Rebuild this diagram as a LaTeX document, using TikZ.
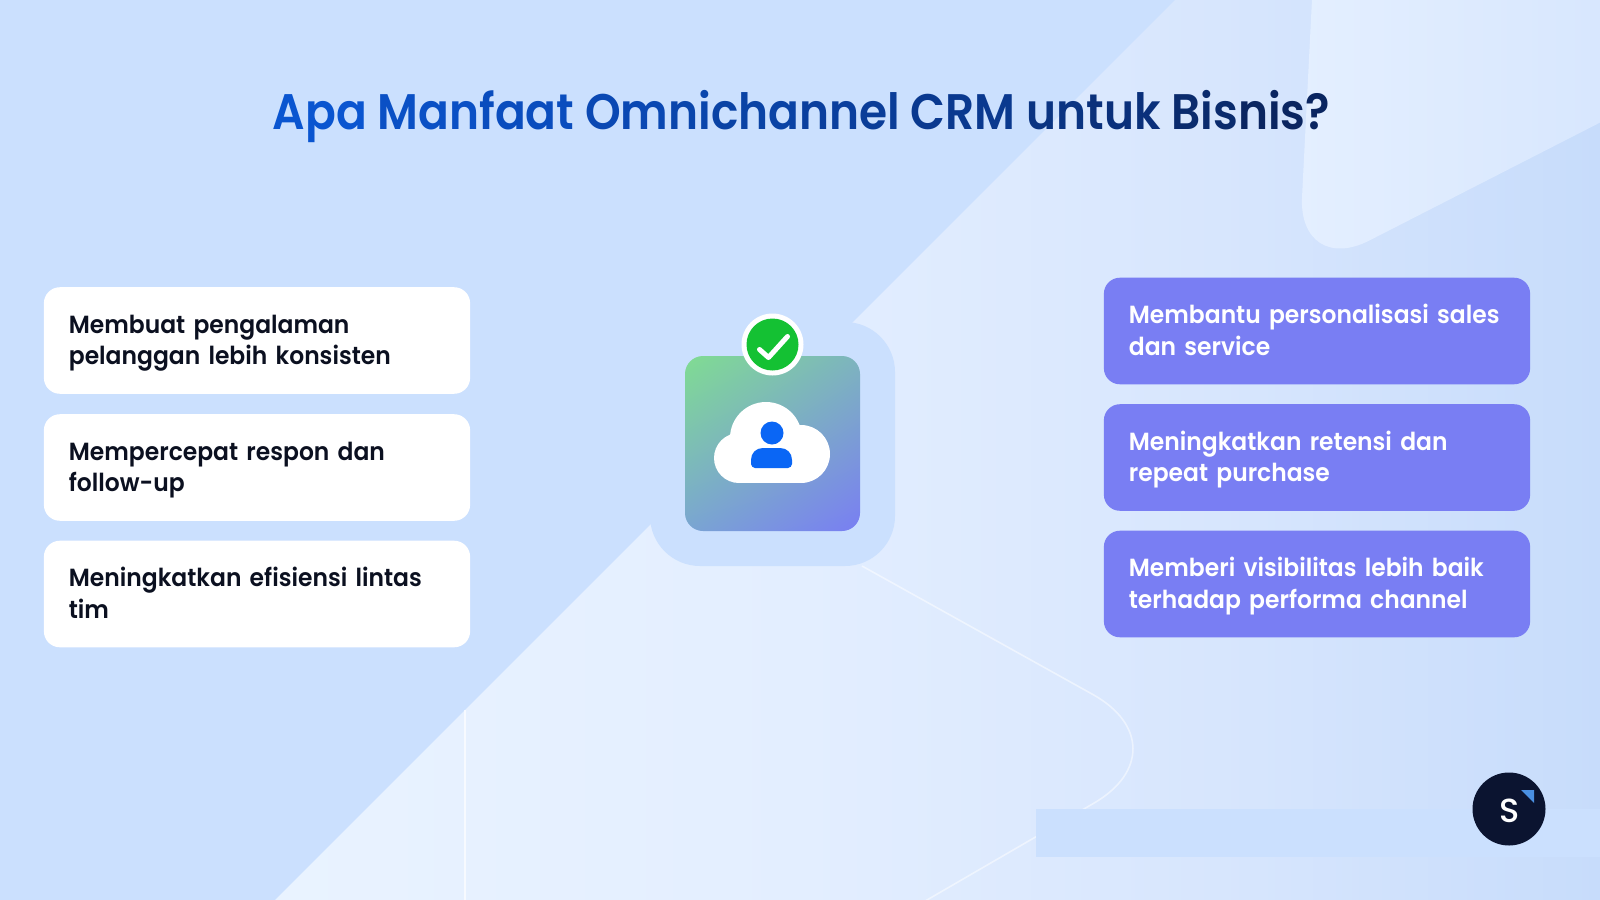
\documentclass[tikz,border=0pt]{standalone}
\usepackage{fontspec}
\setmainfont[FakeStretch=0.945]{Poppins SemiBold}
\newfontfamily\titlefont[FakeStretch=0.91]{Poppins SemiBold}
\newfontfamily\logofont{Poppins Medium}
\usepackage{tikz}
\usetikzlibrary{positioning,shadings}

\definecolor{bgblue}{HTML}{CBE0FE}
\definecolor{bglight}{HTML}{E9F3FF}
\definecolor{bgmid}{HTML}{E3EEFF}
\definecolor{bgupper}{HTML}{D6E5FD}
\definecolor{bgdark}{HTML}{C7DCFB}
\definecolor{shapea}{HTML}{E4EFFF}
\definecolor{shapeb}{HTML}{D2E3FD}
\definecolor{titlea}{HTML}{0A55D0}
\definecolor{titleb}{HTML}{0A2560}
\definecolor{inktext}{HTML}{0B1020}
\definecolor{boxviolet}{HTML}{797EF3}
\definecolor{okgreen}{HTML}{14C133}
\definecolor{personblue}{HTML}{0A66F5}
\definecolor{logonavy}{HTML}{0B1430}
\definecolor{logotip}{HTML}{4A90E2}
\definecolor{iconul}{HTML}{80DC92}
\definecolor{iconur}{HTML}{7DB4BE}
\definecolor{iconll}{HTML}{7AA5D2}

\pgfdeclarehorizontalshading{bgfade}{100bp}{color(0bp)=(bglight); color(25bp)=(bglight); color(45bp)=(bgmid); color(62bp)=(bgupper); color(75bp)=(bgdark); color(100bp)=(bgdark)}

\newcommand{\tpart}[2]{\textcolor{titlea!#1!titleb}{#2}}
\newcommand{\twolines}[2]{\rule{0pt}{7.4pt}#1\\\strut #2}

\tikzset{
	benefit/.style={rounded corners=0.16cm,minimum width=4.26cm,minimum height=1.065cm,inner xsep=0.25cm,inner ysep=0pt,
		text width=3.76cm,align=left,font=\fontsize{7.05}{8.95}\selectfont},
	leftbox/.style={benefit,fill=white,text=inktext},
	rightbox/.style={benefit,fill=boxviolet,text=white},
	thinline/.style={white,opacity=0.5,line width=0.45pt}
}

\begin{document}
\begin{tikzpicture}[x=0.01cm,y=-0.01cm]
	\useasboundingbox (0,0) rectangle (1600,900);

	% Background
	\fill[bgblue] (0,0) rectangle (1600,900);
	\shade[shading=bgfade] (1175,0) -- (1600,0) -- (1600,900) -- (275,900) -- cycle;
	\begin{scope}
		\clip (1175,0) rectangle (1600,900);
		\shade[left color=shapea,right color=shapeb,rounded corners=0.8cm] (1317,-100) -- (1298,277) -- (1740,51) -- (1740,-100) -- cycle;
	\end{scope}
	\draw[white,opacity=0.7,line width=0.75pt] (465,710) -- (465,900);
	\draw[thinline,rounded corners=1.1cm] (862,566) -- (1189,748) -- (920,904);
	\fill[bgblue] (1036,809) rectangle (1600,857);

	% Centre icon
	\fill[bgblue,rounded corners=0.5cm] (650,322) rectangle (895,566);
	\shade[rounded corners=0.18cm,upper left=iconul,upper right=iconur,lower left=iconll,lower right=boxviolet] (685,356) rectangle (860,531);
	\fill[white] (766,438) circle (36);
	\fill[white] (801,454) circle (29);
	\fill[white] (739,458) circle (25);
	\fill[white] (739,440) rectangle (801,483);
	\fill[personblue] (772,433) circle (11.5);
	\fill[personblue] (755,468) .. controls (753,468) and (751,466) .. (751,464) -- (751,460) .. controls (751,453) and (756,448) .. (763,448) -- (780,448) .. controls (787,448) and (792,453) .. (792,460) -- (792,464) .. controls (792,466) and (790,468) .. (788,468) -- cycle;
	\fill[white] (772.5,344.5) circle (31);
	\fill[okgreen] (772.5,344.5) circle (26);
	\draw[white,line width=0.05cm,line cap=round,line join=round] (759.5,349.5) -- (768.5,357.5) -- (787.5,336.5);

	% Title
	\node[anchor=base west,inner sep=0pt,font=\titlefont\fontsize{14.2}{17}\selectfont] (title) at (272,129)
		{\tpart{100}{Apa} \tpart{90}{Man}\tpart{84}{faat} \tpart{74}{Om}\tpart{68}{ni}\tpart{62}{cha}\tpart{55}{nn}\tpart{50}{el} \tpart{42}{CRM} \tpart{30}{un}\tpart{24}{tuk} \tpart{12}{Bis}\tpart{0}{nis?}};

	% Left column
	\node[leftbox] (lefta) at (257,340.5) {\twolines{Membuat pengalaman}{pelanggan lebih konsisten}};
	\node[leftbox] (leftb) at (257,467.5) {\twolines{Mempercepat respon dan}{follow-up}};
	\node[leftbox] (leftc) at (257,594) {\twolines{Meningkatkan efisiensi lintas}{tim}};

	% Right column
	\node[rightbox] (righta) at (1317,331) {\twolines{Membantu personalisasi sales}{dan service}};
	\node[rightbox] (rightb) at (1317,457.5) {\twolines{Meningkatkan retensi dan}{repeat purchase}};
	\node[rightbox] (rightc) at (1317,584) {\twolines{Memberi visibilitas lebih baik}{terhadap performa channel}};

	% Logo
	\fill[logonavy] (1509,809) circle (36.5);
	\fill[logotip] (1521,790) -- (1534,790) -- (1534,803) -- cycle;
	\node[text=white,inner sep=0pt,font=\logofont\fontsize{9.5}{11}\selectfont] (logo) at (1510,811) {S};
\end{tikzpicture}
\end{document}
